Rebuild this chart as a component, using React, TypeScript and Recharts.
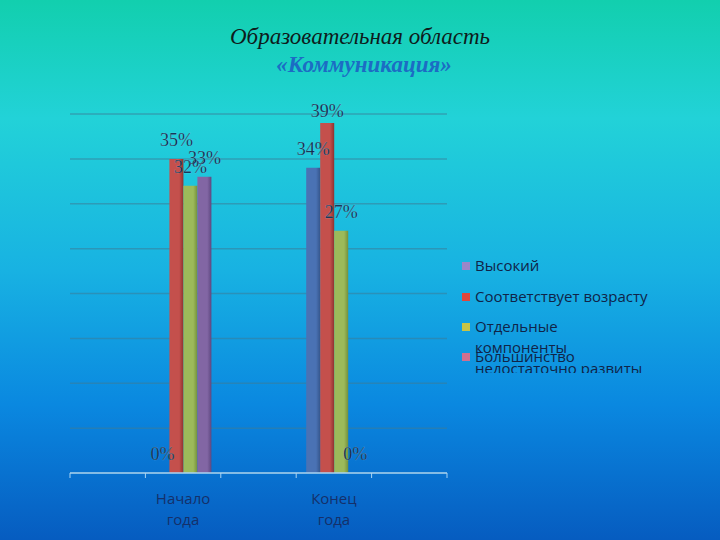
import { BarChart, Bar, XAxis, YAxis, CartesianGrid, LabelList } from 'recharts';

// Excel-style layout: 5 category slots, only two of them filled
const categories = ['', 'Начало года', '', 'Конец года', ''];
const high = [null, 0, null, 34, null];
const ageAppropriate = [null, 35, null, 39, null];
const partial = [null, 32, null, 27, null];
const majority = [null, 33, null, 0, null];
const yTicks = [0, 5, 10, 15, 20, 25, 30, 35, 40];

const series = [
  { key: 'high', name: 'Высокий', values: high, color: '#4a72b4', dark: '#35568c', legend: '#9a86c8' },
  { key: 'age', name: 'Соответствует возрасту', values: ageAppropriate, color: '#c4504c', dark: '#8e3230', legend: '#e0463c' },
  { key: 'partial', name: 'Отдельные компоненты недостаточно развиты', values: partial, color: '#9cba5a', dark: '#74903c', legend: '#c8c446' },
  { key: 'major', name: 'Большинство', values: majority, color: '#8266a4', dark: '#5e4880', legend: '#d07090' },
];

const data = categories.map((c, i) => {
  const row: Record<string, any> = { cat: c };
  series.forEach((s) => { row[s.key] = s.values[i]; });
  return row;
});

// the top label is pushed down a little in the original (plot top clips it)
const nudge: Record<string, [number, number]> = { 'age-3': [0, 7] };

const labelFont = '"Liberation Serif", serif';
const sansFont = '"Open Sans", sans-serif';

function makeLabel(s: typeof series[number]) {
  return (props: any) => {
    const { x, y, width, value } = props;
    if (value === null || value === undefined) return null;
    const cat = s.values.indexOf(value);
    const [dx, dy] = nudge[`${s.key}-${cat}`] || [0, 0];
    return (
      <text x={x + width / 2 + dx} y={y - 13 + dy} textAnchor="middle" fontSize={18}
        fontFamily={labelFont} fill="#0c2448" stroke="rgba(200,245,255,0.3)" strokeWidth={0.5}>
        {value}%
      </text>
    );
  };
}

function CatTick(props: any) {
  const { x, y, payload, index } = props;
  const half = payload.offset || 37.7;
  const lines = String(payload.value).split(' ').filter(Boolean);
  return (
    <g>
      <line x1={x - half} x2={x - half} y1={y - 8} y2={y - 3} stroke="#a8d4f4" />
      {index === categories.length - 1 && (
        <line x1={x + half} x2={x + half} y1={y - 8} y2={y - 3} stroke="#a8d4f4" />
      )}
      {lines.map((l, i) => (
        <text key={i} x={x} y={y + 23 + i * 21} textAnchor="middle" fontSize={15}
          fontFamily={sansFont} fill="#15306a">{l}</text>
      ))}
    </g>
  );
}

function Legend() {
  const rows: { s: typeof series[number]; top: number; lines: string[] }[] = [
    { s: series[0], top: 255, lines: ['Высокий'] },
    { s: series[1], top: 286, lines: ['Соответствует возрасту'] },
    { s: series[2], top: 316, lines: ['Отдельные', 'компоненты', 'недостаточно развиты'] },
    { s: series[3], top: 346, lines: ['Большинство'] },
  ];
  return (
    <div style={{ position: 'absolute', left: 458, top: 0, width: 262, height: 373, overflow: 'hidden' }}>
      {rows.map((r) => (
        <div key={r.s.key} style={{ position: 'absolute', left: 0, top: r.top }}>
          <div style={{ position: 'absolute', left: 4, top: 7, width: 8, height: 8, background: r.s.legend }} />
          {r.lines.map((l, i) => (
            <div key={i} style={{ position: 'absolute', left: 17, top: i * 21, whiteSpace: 'nowrap',
              fontFamily: sansFont, fontSize: 15, lineHeight: '21px', color: '#102448' }}>{l}</div>
          ))}
        </div>
      ))}
    </div>
  );
}

export default function App() {
  return (
    <div style={{
      position: 'fixed', left: 0, top: 0, width: 720, height: 540, overflow: 'hidden',
      background: 'linear-gradient(to bottom, #12cfae 0%, #22d2d8 22%, #18b2e2 50%, #0a88e0 75%, #065cc0 100%)',
    }}>
      <div style={{ position: 'absolute', left: 0, top: 24, width: 720, textAlign: 'center',
        fontFamily: '"Liberation Serif", serif', fontStyle: 'italic', fontSize: 23, color: '#0e1c1c' }}>
        Образовательная область
      </div>
      <div style={{ position: 'absolute', left: 4, top: 52, width: 720, textAlign: 'center',
        fontFamily: '"Liberation Serif", serif', fontStyle: 'italic', fontWeight: 'bold', fontSize: 23, color: '#1c6cc4' }}>
        «Коммуникация»
      </div>
      <div style={{ position: 'absolute', left: 0, top: 0 }}>
        <BarChart width={720} height={540} data={data} barGap={0} barSize={14}
          margin={{ top: 114, right: 273, bottom: 17, left: 70 }}>
          <defs>
            {series.map((s) => (
              <linearGradient key={s.key} id={`g-${s.key}`} x1="0" y1="0" x2="1" y2="0">
                <stop offset="0%" stopColor={s.color} />
                <stop offset="70%" stopColor={s.color} />
                <stop offset="100%" stopColor={s.dark} />
              </linearGradient>
            ))}
          </defs>
          <CartesianGrid vertical={false} stroke="#3c7c98" strokeOpacity={0.55} strokeWidth={1.5} />
          <YAxis hide domain={[0, 40]} ticks={yTicks} />
          <XAxis dataKey="cat" height={50} interval={0} tickLine={false}
            axisLine={{ stroke: '#a8d4f4', strokeWidth: 1.5 }} tick={<CatTick />} />
          {series.map((s) => (
            <Bar key={s.key} dataKey={s.key} name={s.name} fill={`url(#g-${s.key})`}
              minPointSize={(v: any) => (v === 0 ? 0.01 : 0)} isAnimationActive={false}>
              <LabelList dataKey={s.key} content={makeLabel(s)} />
            </Bar>
          ))}
        </BarChart>
      </div>
      <Legend />
    </div>
  );
}
